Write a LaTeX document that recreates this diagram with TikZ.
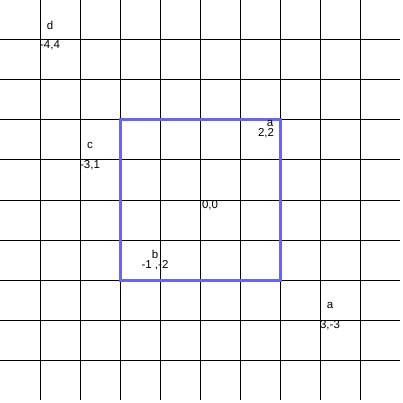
\documentclass[tikz,border=0pt]{standalone}
\usepackage{fontspec}
\setmainfont{Liberation Sans}
\definecolor{sqblue}{RGB}{102,102,238}
\begin{document}
\begin{tikzpicture}[x=1pt,y=-1pt,
  gridline/.style={black,line width=1pt},
  sq/.style={draw=sqblue,line width=3pt},
  lbl/.style={inner sep=0pt,font=\fontsize{11.5}{13}\selectfont}]
\useasboundingbox[fill=white] (0,0) rectangle (403,403);
\foreach \k in {40,80,...,360}{
  \draw[gridline] (\k,0) -- (\k,400);
  \draw[gridline] (0,\k) -- (400,\k);
}
\draw[sq] (120,120) rectangle (280,280);
\node[lbl] (d) at (50,25) {d};
\node[lbl] (dl) at (50,45.5) {-4,4};
\node[lbl] (c) at (90,145) {c};
\node[lbl] (cl) at (90,165) {-3,1};
\node[lbl] (a1) at (270,123) {a};
\node[lbl] (a1l) at (266,133.5) {2,2};
\node[lbl] (b) at (155,254) {b};
\node[lbl] (bl) at (155,265) {-1 ,-2};
\node[lbl] (a2) at (330,305) {a};
\node[lbl] (a2l) at (330,325) {3,-3};
\node[lbl] (o) at (210,205) {0,0};
\end{tikzpicture}
\end{document}
